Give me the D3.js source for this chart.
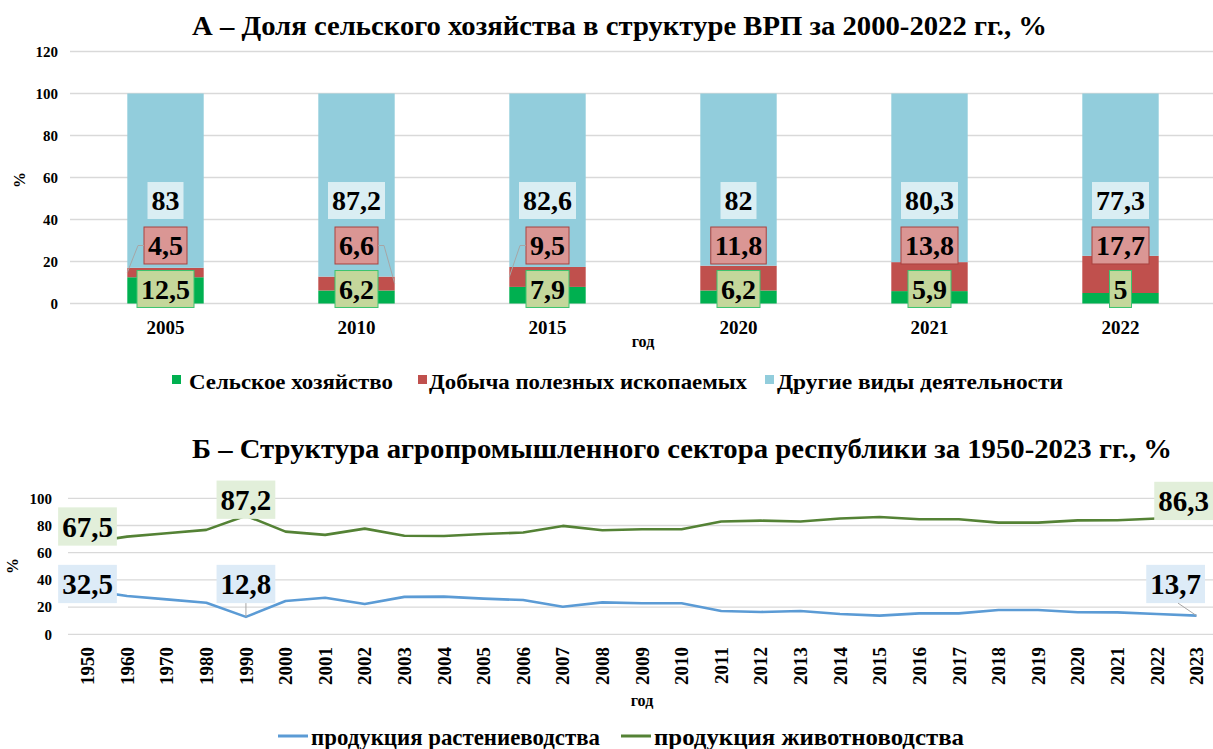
<!doctype html>
<html>
<head>
<meta charset="utf-8">
<title>Доля сельского хозяйства</title>
<script src="https://d3js.org/d3.v7.min.js"></script>
<style>
  body { margin: 0; background: #fff; }
</style>
</head>
<body>
<div id="holder"></div>
<script>
// ---- data, chart A ----
const yearsA = ['2005', '2010', '2015', '2020', '2021', '2022'];
const agri = [12.5, 6.2, 7.9, 6.2, 5.9, 5];
const mining = [4.5, 6.6, 9.5, 11.8, 13.8, 17.7];
const other = [83, 87.2, 82.6, 82, 80.3, 77.3];
const ticksA = [0, 20, 40, 60, 80, 100, 120];
const namesA = ['Сельское хозяйство', 'Добыча полезных ископаемых', 'Другие виды деятельности'];

// ---- data, chart B ----
const yearsB = ['1950', '1960', '1970', '1980', '1990', '2000', '2001', '2002', '2003', '2004', '2005',
  '2006', '2007', '2008', '2009', '2010', '2011', '2012', '2013', '2014', '2015', '2016', '2017',
  '2018', '2019', '2020', '2021', '2022', '2023'];
const crops = [32.5, 28.2, 25.7, 23.2, 12.8, 24.5, 26.9, 22.3, 27.5, 27.7, 26.2, 25.2, 20.3, 23.5,
  22.8, 22.8, 17.1, 16.4, 17.1, 14.9, 13.7, 15.4, 15.4, 17.9, 17.9, 16.2, 16.1, 14.9, 13.7];
const livestock = [67.5, 71.8, 74.3, 76.8, 87.2, 75.5, 73.1, 77.7, 72.5, 72.3, 73.8, 74.8, 79.7, 76.5,
  77.2, 77.2, 82.9, 83.6, 82.9, 85.1, 86.3, 84.6, 84.6, 82.1, 82.1, 83.8, 83.9, 85.1, 86.3];
const ticksB = [0, 20, 40, 60, 80, 100];
const labelledB = ['1950', '1990', '2023'];
const namesB = ['продукция растениеводства', 'продукция животноводства'];

const W = 1213, H = 749;
const FONT = 'Liberation Serif';
const fmt = v => String(v).replace('.', ',');

const svg = d3.select('#holder').append('svg')
  .attr('width', W).attr('height', H);
svg.append('rect').attr('width', W).attr('height', H).attr('fill', '#fff');

// every text gets its font set directly
function txt(g, s) {
  return g.append('text')
    .attr('font-family', FONT).attr('font-weight', 'bold')
    .text(s);
}

// helper: label with box
function boxLabel(g, cx, cy, s, size, fill, stroke, clampRight) {
  const t = txt(g, s)
    .attr('font-size', size)
    .attr('text-anchor', 'middle')
    .attr('dy', '0.35em');
  const w = t.node().getComputedTextLength() + 8;
  const h = size * 1.32;
  if (clampRight && cx + w / 2 > clampRight) cx = clampRight - w / 2;
  t.attr('x', cx).attr('y', cy);
  g.insert('rect', 'text:last-child')
    .attr('x', cx - w / 2).attr('y', cy - h / 2)
    .attr('width', w).attr('height', h)
    .attr('fill', fill)
    .attr('stroke', stroke || 'none')
    .attr('stroke-width', 1);
  return { x0: cx - w / 2, x1: cx + w / 2, y0: cy - h / 2, y1: cy + h / 2 };
}

/* ================= CHART A ================= */
const colorsA = ['#00b050', '#c0504d', '#92cddc'];
const gA = svg.append('g');

const xA = d3.scaleBand().domain(yearsA).range([70, 1216]).paddingInner(0.6).paddingOuter(0.3);
const yA = d3.scaleLinear().domain([0, 120]).range([303.5, 51.5]);

txt(gA, 'А – Доля сельского хозяйства в структуре ВРП за 2000-2022 гг., %')
  .attr('x', 192).attr('y', 35).attr('font-size', 28)
  .attr('textLength', 855).attr('lengthAdjust', 'spacingAndGlyphs');

// grid + y axis
gA.append('g').selectAll('line').data(ticksA).join('line')
  .attr('x1', 70).attr('x2', W).attr('y1', d => yA(d)).attr('y2', d => yA(d))
  .attr('stroke', '#d9d9d9').attr('stroke-width', 1.3);
const yAxA = gA.append('g');
ticksA.forEach(d => {
  txt(yAxA, d).attr('x', 58).attr('y', yA(d)).attr('dy', '0.35em')
    .attr('text-anchor', 'end').attr('font-size', 15);
});
txt(gA, '%').attr('font-size', 16).attr('text-anchor', 'middle')
  .attr('transform', 'translate(25,180) rotate(-90)');

// stacked bars
const rowsA = yearsA.map((y, i) => ({ year: y, agri: agri[i], mining: mining[i], other: other[i] }));
const series = d3.stack().keys(['agri', 'mining', 'other'])(rowsA);
gA.append('g').selectAll('g').data(series).join('g')
  .attr('fill', (d, i) => colorsA[i])
  .selectAll('rect').data(d => d).join('rect')
  .attr('x', d => xA(d.data.year)).attr('width', xA.bandwidth())
  .attr('y', d => yA(d[1])).attr('height', d => yA(d[0]) - yA(d[1]));

// x axis labels
const xAxA = gA.append('g');
yearsA.forEach(d => {
  txt(xAxA, d).attr('x', xA(d) + xA.bandwidth() / 2).attr('y', 333.5)
    .attr('text-anchor', 'middle').attr('font-size', 19);
});
txt(gA, 'год').attr('x', 643).attr('y', 347)
  .attr('text-anchor', 'middle').attr('font-size', 16);

// data labels (stacked boxes above baseline)
const labA = gA.append('g');
const base = yA(0);
rowsA.forEach((r, i) => {
  const cx = xA(r.year) + xA.bandwidth() / 2;
  boxLabel(labA.append('g'), cx, base - 14.5, fmt(r.agri), 28, '#c4d79b', '#3cc46e');
  const b = boxLabel(labA.append('g'), cx, base - 58, fmt(r.mining), 28, '#da9694', '#a9423f');
  const segTop = yA(r.agri + r.mining);
  if (segTop > b.y1 + 2) {
    // leader line to the nearer bar edge (left for odd slots, right otherwise)
    const left = i % 2 === 0;
    const xe = left ? xA(r.year) : xA(r.year) + xA.bandwidth();
    const xb = left ? b.x0 : b.x1;
    const ym = yA(r.agri + r.mining / 2);
    labA.append('path')
      .attr('d', `M${xb},${(b.y0 + b.y1) / 2}H${xb + (left ? -6 : 6)}L${xe},${ym}`)
      .attr('fill', 'none').attr('stroke', '#a6a6a6').attr('stroke-width', 1);
  }
  boxLabel(labA.append('g'), cx, base - 103, fmt(r.other), 28, '#daeef3', null);
});

// legend A
const legA = gA.append('g');
const legSq = [172, 418, 765];
const legTx = [189, 429, 777];
const legLen = [204, 318, 286];
namesA.forEach((n, i) => {
  legA.append('rect').attr('x', legSq[i]).attr('y', 375).attr('width', 9).attr('height', 9)
    .attr('fill', colorsA[i]);
  txt(legA, n).attr('x', legTx[i]).attr('y', 388.5).attr('font-size', 22)
    .attr('textLength', legLen[i]).attr('lengthAdjust', 'spacingAndGlyphs');
});

/* ================= CHART B ================= */
const colorsB = ['#5b9bd5', '#548235'];
const fillsB = ['#ddebf7', '#e2efda'];
const gB = svg.append('g');
const xB = d3.scalePoint().domain(yearsB).range([87.5, 1196.5]);
const yB = d3.scaleLinear().domain([0, 100]).range([634.3, 498.3]);

txt(gB, 'Б – Структура агропромышленного сектора республики за 1950-2023 гг., %')
  .attr('x', 192).attr('y', 458).attr('font-size', 28)
  .attr('textLength', 980).attr('lengthAdjust', 'spacingAndGlyphs');

gB.append('g').selectAll('line').data(ticksB).join('line')
  .attr('x1', 68).attr('x2', W).attr('y1', d => yB(d)).attr('y2', d => yB(d))
  .attr('stroke', '#d9d9d9').attr('stroke-width', 1.3);
const yAxB = gB.append('g');
ticksB.forEach(d => {
  txt(yAxB, d).attr('x', 52).attr('y', yB(d)).attr('dy', '0.35em')
    .attr('text-anchor', 'end').attr('font-size', 15);
});
txt(gB, '%').attr('font-size', 16).attr('text-anchor', 'middle')
  .attr('transform', 'translate(18,566) rotate(-90)');

const xAxB = gB.append('g');
yearsB.forEach(d => {
  txt(xAxB, d).attr('font-size', 19).attr('text-anchor', 'end').attr('dy', '0.35em')
    .attr('transform', `translate(${xB(d)},647) rotate(-90)`);
});
txt(gB, 'год').attr('x', 642).attr('y', 706)
  .attr('text-anchor', 'middle').attr('font-size', 16);

const seriesB = [crops, livestock];
const line = d3.line().x((d, i) => xB(yearsB[i])).y(d => yB(d));
seriesB.forEach((s, k) => {
  gB.append('path').datum(s).attr('d', line)
    .attr('fill', 'none').attr('stroke', colorsB[k]).attr('stroke-width', 2.6)
    .attr('stroke-linejoin', 'round');
});

// labels B
const labB = gB.append('g');
labelledB.forEach(yr => {
  const i = yearsB.indexOf(yr);
  const px = xB(yr);
  // livestock: above the point
  boxLabel(labB.append('g'), px, yB(livestock[i]) - 16, fmt(livestock[i]), 29, fillsB[1], null, 1213);
  // crops: at a fixed level above the line
  const b = boxLabel(labB.append('g'), px, yB(37), fmt(crops[i]), 29, fillsB[0], null, 1205);
  const py = yB(crops[i]);
  if (py > b.y1 + 3) {
    labB.append('line')
      .attr('x1', Math.min(px, b.x1 - 27)).attr('y1', b.y1)
      .attr('x2', px).attr('y2', py)
      .attr('stroke', '#a6a6a6').attr('stroke-width', 1);
  }
});

// legend B
const legB = gB.append('g');
const legBX = [278, 621];
const legBTx = [311, 654];
const legBLen = [289, 310];
namesB.forEach((n, i) => {
  legB.append('line').attr('x1', legBX[i]).attr('x2', legBX[i] + 30)
    .attr('y1', 736).attr('y2', 736)
    .attr('stroke', colorsB[i]).attr('stroke-width', 3);
  txt(legB, n).attr('x', legBTx[i]).attr('y', 745).attr('font-size', 23)
    .attr('textLength', legBLen[i]).attr('lengthAdjust', 'spacingAndGlyphs');
});
</script>
</body>
</html>
